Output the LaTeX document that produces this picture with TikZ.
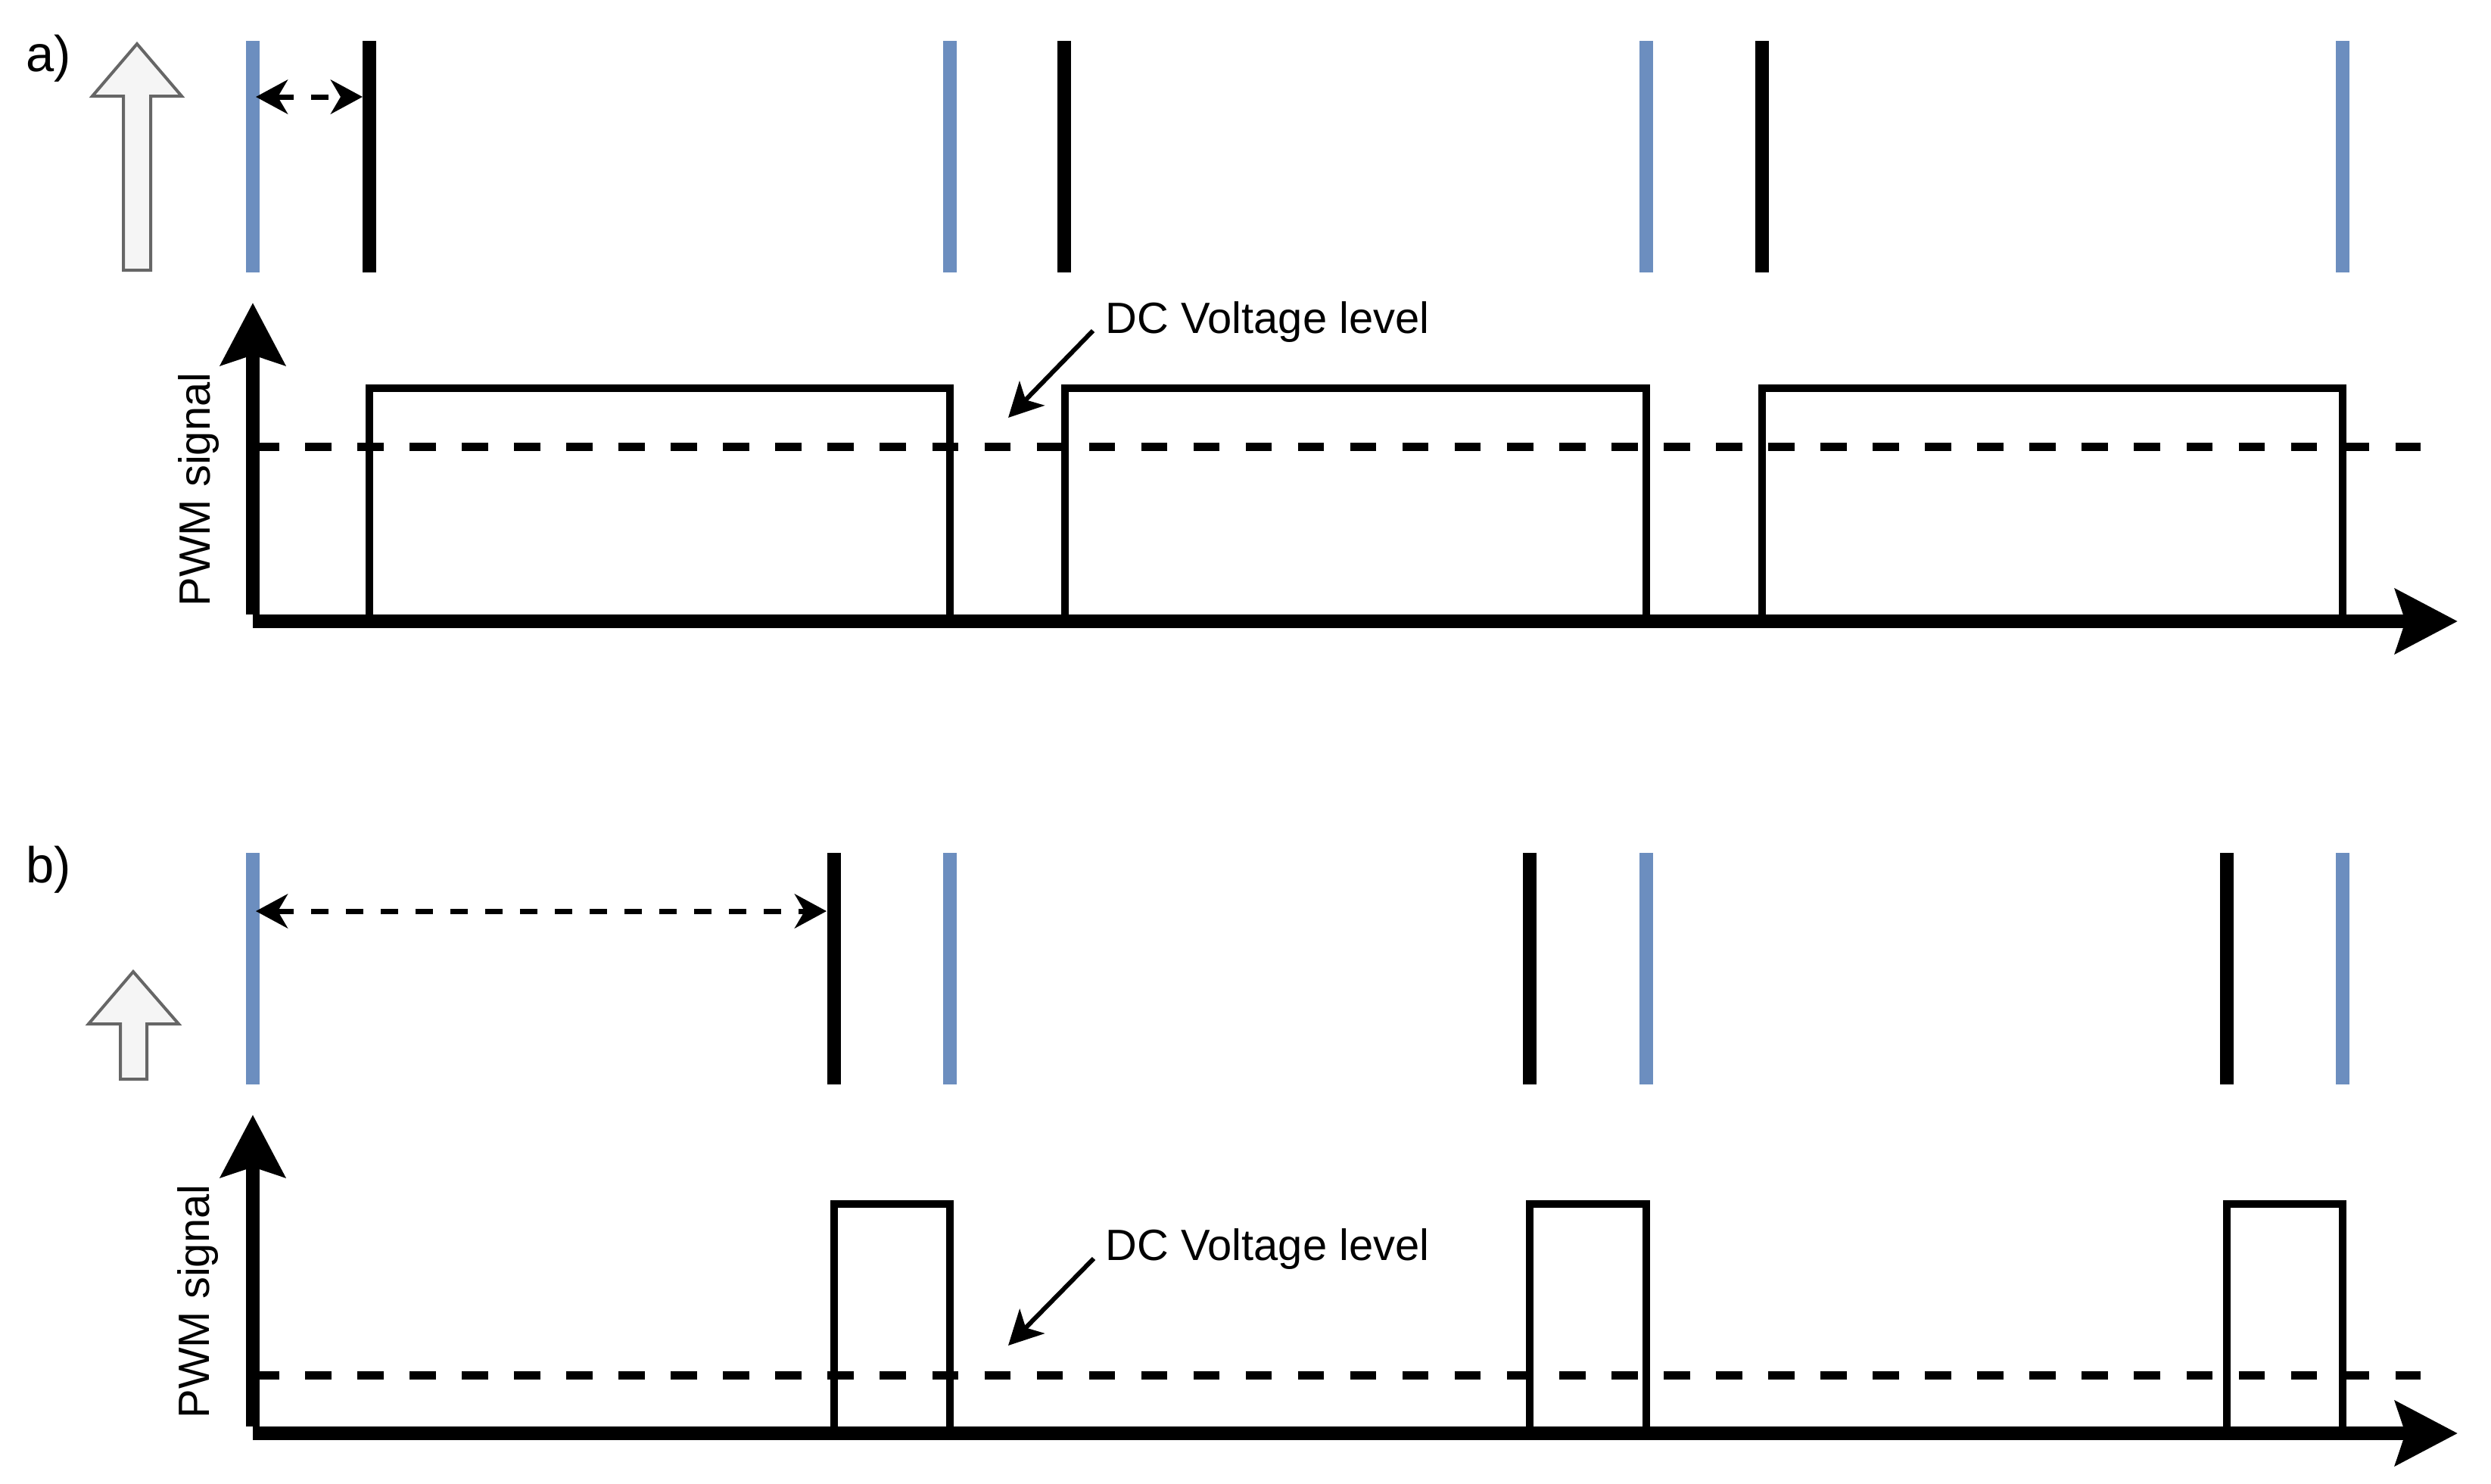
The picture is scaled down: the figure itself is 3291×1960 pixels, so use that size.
\documentclass[tikz,border=0pt]{standalone}
\usepackage{fontspec}
\setmainfont{Liberation Sans}
\usetikzlibrary{arrows.meta}
\definecolor{trigblue}{HTML}{6C8EBF}
\definecolor{blockfill}{HTML}{F5F5F5}
\definecolor{blockline}{HTML}{666666}
\tikzset{
  axisline/.style={line width=0.18cm, line cap=butt, -{Stealth[length=8.2mm,width=8.4mm,inset=1.3mm]}},
  pulseline/.style={line width=0.10cm, line join=miter},
  dcline/.style={line width=0.11cm, dash pattern=on 0.345cm off 0.345cm},
  trigblueline/.style={line width=0.18cm, draw=trigblue},
  trigblackline/.style={line width=0.18cm, draw=black},
  delayarrow/.style={line width=0.07cm, dash pattern=on 0.23cm off 0.23cm,
    {Stealth[length=4.2mm,width=4.5mm,inset=1.3mm]}-{Stealth[length=4.2mm,width=4.5mm,inset=1.3mm]}},
  pointer/.style={line width=0.06cm, -{Stealth[length=4.5mm,width=4.6mm,inset=1.2mm]}},
  blockarrow/.style={fill=blockfill, draw=blockline, line width=0.04cm, line join=miter},
  bodytext/.style={inner sep=0pt, font=\fontsize{16.45pt}{19pt}\selectfont},
  paneltext/.style={inner sep=0pt, font=\fontsize{19pt}{22pt}\selectfont},
}
\begin{document}
\begin{tikzpicture}[x=0.01cm, y=-0.01cm]
\useasboundingbox (0,0) rectangle (3291,1960);
\fill[white] (0,0) rectangle (3291,1960);

% ===================== panel a =====================
\node[paneltext, anchor=base west] (lbla) at (34,94) {a)};
\draw[blockarrow] (181,58) -- (240,127) -- (199,127) -- (199,357) -- (163,357) -- (163,127) -- (122,127) -- cycle;

% trigger lines a
\foreach \x/\n in {334/1, 1255/2, 2174.5/3, 3094.5/4} {
  \coordinate (ab\n t) at (\x,54); \coordinate (ab\n b) at (\x,360);
  \draw[trigblueline] (ab\n t) -- (ab\n b);
}
\foreach \x/\n in {488/1, 1406/2, 2328/3} {
  \coordinate (ak\n t) at (\x,54); \coordinate (ak\n b) at (\x,360);
  \draw[trigblackline] (ak\n t) -- (ak\n b);
}
\coordinate (ada) at (338,128); \coordinate (adb) at (479,128);
\draw[delayarrow] (ada) -- (adb);

% pulses a
\foreach \l/\r/\n in {487.5/1255/1, 1407/2174.5/2, 2328/3094.5/3} {
  \coordinate (ap\n a) at (\l,821); \coordinate (ap\n b) at (\l,513);
  \coordinate (ap\n c) at (\r,513); \coordinate (ap\n d) at (\r,821);
  \draw[pulseline] (ap\n a) -- (ap\n b) -- (ap\n c) -- (ap\n d);
}
% DC level a
\coordinate (adc0) at (334,590); \coordinate (adc1) at (3198,590);
\draw[dcline] (adc0) -- (adc1);
\node[bodytext, anchor=base west] (dca) at (1460,440) {DC Voltage level};
\coordinate (apa) at (1444,437); \coordinate (apb) at (1332,552);
\draw[pointer] (apa) -- (apb);
% axes a
\coordinate (ay0) at (334,812); \coordinate (ay1) at (334,400);
\coordinate (ax0) at (334,821); \coordinate (ax1) at (3247,821);
\draw[axisline] (ay0) -- (ay1);
\draw[axisline] (ax0) -- (ax1);
\node[bodytext, rotate=90, anchor=base] (pwma) at (277,647) {PWM signal};

% ===================== panel b =====================
\node[paneltext, anchor=base west] (lblb) at (34,1166) {b)};
\draw[blockarrow] (176,1284) -- (236,1353) -- (194,1353) -- (194,1426) -- (159,1426) -- (159,1353) -- (117,1353) -- cycle;

\foreach \x/\n in {334/1, 1255/2, 2174.5/3, 3094.5/4} {
  \coordinate (bb\n t) at (\x,1127); \coordinate (bb\n b) at (\x,1433);
  \draw[trigblueline] (bb\n t) -- (bb\n b);
}
\foreach \x/\n in {1101.5/1, 2021/2, 2941.5/3} {
  \coordinate (bk\n t) at (\x,1127); \coordinate (bk\n b) at (\x,1433);
  \draw[trigblackline] (bk\n t) -- (bk\n b);
}
\coordinate (bda) at (338,1204); \coordinate (bdb) at (1092,1204);
\draw[delayarrow] (bda) -- (bdb);

\foreach \l/\r/\n in {1101.5/1255/1, 2021/2174.5/2, 2941.5/3094.5/3} {
  \coordinate (bp\n a) at (\l,1894); \coordinate (bp\n b) at (\l,1591);
  \coordinate (bp\n c) at (\r,1591); \coordinate (bp\n d) at (\r,1894);
  \draw[pulseline] (bp\n a) -- (bp\n b) -- (bp\n c) -- (bp\n d);
}
\coordinate (bdc0) at (334,1817); \coordinate (bdc1) at (3198,1817);
\draw[dcline] (bdc0) -- (bdc1);
\node[bodytext, anchor=base west] (dcb) at (1460,1665) {DC Voltage level};
\coordinate (bpa) at (1445,1663); \coordinate (bpb) at (1332,1778);
\draw[pointer] (bpa) -- (bpb);
\coordinate (by0) at (334,1885); \coordinate (by1) at (334,1473);
\coordinate (bx0) at (334,1894); \coordinate (bx1) at (3247,1894);
\draw[axisline] (by0) -- (by1);
\draw[axisline] (bx0) -- (bx1);
\node[bodytext, rotate=90, anchor=base] (pwmb) at (276,1720) {PWM signal};
\end{tikzpicture}
\end{document}
